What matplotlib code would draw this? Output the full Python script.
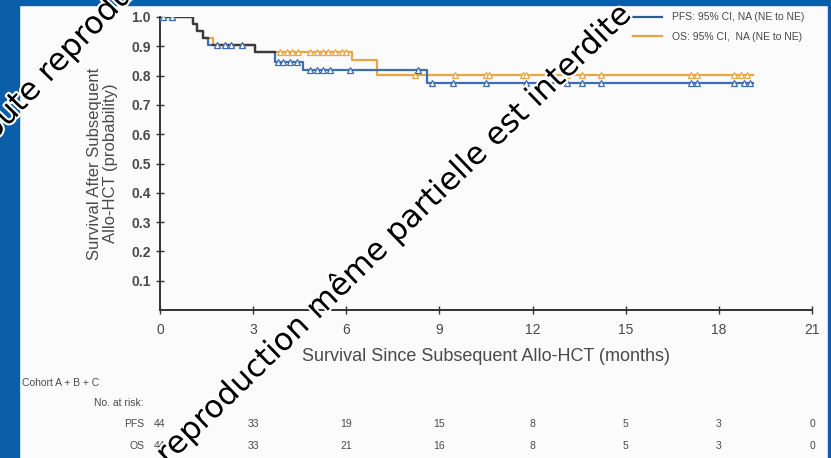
import numpy as np
import matplotlib
matplotlib.use("Agg")
import matplotlib.pyplot as plt
import matplotlib.patheffects as pe
from matplotlib.patches import Rectangle
from matplotlib.lines import Line2D

# Kaplan-Meier estimates, survival after subsequent allo-HCT (months)
month_ticks = [0, 3, 6, 9, 12, 15, 18, 21]
prob_ticks = [0.1, 0.2, 0.3, 0.4, 0.5, 0.6, 0.7, 0.8, 0.9, 1.0]
follow_up_end = 19.1

pfs_times = [0, 1.05, 1.18, 1.40, 1.56, 3.06, 3.71, 4.62, 8.60]
pfs_surv = [1.0, 0.977, 0.953, 0.929, 0.905, 0.879, 0.845, 0.820, 0.775]
pfs_censored = [0.1, 0.4, 1.83, 2.1, 2.3, 2.63, 3.8, 3.97, 4.2, 4.4,
                4.84, 5.06, 5.26, 5.48, 6.13, 8.3, 8.76, 9.45, 10.5,
                11.8, 13.1, 13.6, 14.2, 17.1, 17.3, 18.5, 18.8, 19.0]

os_times = [0, 1.05, 1.18, 1.40, 1.72, 3.06, 6.18, 6.99]
os_surv = [1.0, 0.977, 0.953, 0.929, 0.905, 0.879, 0.852, 0.802]
os_censored = [0.1, 0.4, 1.83, 2.1, 2.3, 2.63, 3.87, 4.1, 4.26, 4.45,
               4.84, 5.06, 5.26, 5.42, 5.65, 5.87, 6.0, 8.2, 9.5, 10.5,
               10.6, 11.7, 11.8, 13.1, 13.6, 14.2, 17.1, 17.3, 18.5,
               18.7, 18.9]

pfs_at_risk = [44, 33, 19, 15, 8, 5, 3, 0]
os_at_risk = [44, 33, 21, 16, 8, 5, 3, 0]

legend_labels = ["PFS: 95% CI, NA (NE to NE)", "OS: 95% CI,  NA (NE to NE)"]

PFS_COLOR = "#3d6db2"
OS_COLOR = "#e9a646"
SHARED_COLOR = "#3a3a3a"
TEXT_COLOR = "#4a4a4a"
FONT = ["Liberation Sans", "DejaVu Sans"]

W, H = 831, 458


def step_value(times, surv, t):
    idx = np.searchsorted(np.asarray(times), np.asarray(t), side="right") - 1
    return np.asarray(surv)[idx]


def curve(times, surv):
    x = np.append(times, follow_up_end)
    y = np.append(surv, surv[-1])
    return x, y


def fig_xy(x, y):
    return x / W, 1 - y / H


fig = plt.figure(figsize=(W / 100, H / 100), dpi=100, facecolor="#fbfbfb")
ax = fig.add_axes([160 / W, 1 - 310 / H, (812 - 160) / W, (310 - 17) / H])
ax.set_facecolor("none")

px, py = curve(pfs_times, pfs_surv)
ox, oy = curve(os_times, os_surv)
ax.step(ox, oy, where="post", color=OS_COLOR, lw=1.6, zorder=3)
ax.step(px, py, where="post", color=PFS_COLOR, lw=1.6, zorder=4)

# where both curves coincide they are drawn in dark grey
grid = np.union1d(px, ox)
gp = step_value(px, py, grid)
go = step_value(ox, oy, grid)
shared = np.ma.masked_where(~np.isclose(gp, go), gp)
ax.step(grid, shared, where="post", color=SHARED_COLOR, lw=1.6, zorder=5)

ax.plot(os_censored, step_value(ox, oy, os_censored), ls="none", marker="^",
        ms=4, mfc="white", mec=OS_COLOR, mew=0.9, zorder=6)
ax.plot(pfs_censored, step_value(px, py, pfs_censored), ls="none", marker="^",
        ms=4, mfc="white", mec=PFS_COLOR, mew=0.9, zorder=7)

ax.set_xlim(0, 21)
ax.set_ylim(0, 1.0)
ax.set_xticks(month_ticks)
ax.set_yticks(prob_ticks)
ax.set_yticklabels([f"{v:.1f}" for v in prob_ticks])
for s in ("top", "right"):
    ax.spines[s].set_visible(False)
for s in ("left", "bottom"):
    ax.spines[s].set_color("#333333")
    ax.spines[s].set_linewidth(1.4)
ax.tick_params(direction="inout", length=6, width=1.0, color="#333333",
               labelcolor=TEXT_COLOR, labelsize=10)
ax.tick_params(axis="x", pad=6)
for lab in ax.get_xticklabels() + ax.get_yticklabels():
    lab.set_family(FONT)
for lab in ax.get_yticklabels():
    lab.set_fontweight("bold")

ax.set_xlabel("Survival Since Subsequent Allo-HCT (months)", family=FONT,
              fontsize=13, color=TEXT_COLOR, labelpad=8)
ax.set_ylabel("Survival After Subsequent\nAllo-HCT (probability)", family=FONT,
              fontsize=12, color=TEXT_COLOR, labelpad=10, linespacing=1.05)

handles = [Line2D([], [], color="#2f5a96", lw=1.6),
           Line2D([], [], color=OS_COLOR, lw=1.6)]
fig.legend(handles, legend_labels, loc="upper right",
           bbox_to_anchor=(814 / W, 1 - 3 / H), frameon=False,
           prop={"family": FONT, "size": 7.5}, labelcolor=TEXT_COLOR,
           handlelength=2.8, handletextpad=1.0, labelspacing=0.9)

# number at risk table under the x axis
fig.text(*fig_xy(22, 383), "Cohort A + B + C", family=FONT, fontsize=7.5,
         color=TEXT_COLOR, va="center", ha="left")
fig.text(*fig_xy(144, 403), "No. at risk:", family=FONT, fontsize=7.5,
         color=TEXT_COLOR, va="center", ha="right")
for name, row, y in (("PFS", pfs_at_risk, 424), ("OS", os_at_risk, 446)):
    fig.text(*fig_xy(144, y), name, family=FONT, fontsize=7.5,
             color=TEXT_COLOR, va="center", ha="right")
    for m, n in zip(month_ticks, row):
        xd = ax.transData.transform((m, 0))[0]
        fig.text(xd / W, 1 - y / H, str(n), family=FONT, fontsize=7.5,
                 color=TEXT_COLOR, va="center", ha="center")

# blue slide frame
frame = "#0b5ea8"
fig.patches.append(Rectangle((0, 0), 19 / W, 1, transform=fig.transFigure,
                             color=frame, zorder=1))
fig.patches.append(Rectangle((0, 1 - 5 / H), 1, 5 / H, transform=fig.transFigure,
                             color=frame, zorder=1))
fig.patches.append(Rectangle((1 - 3 / W, 0), 3 / W, 1, transform=fig.transFigure,
                             color=frame, zorder=1))

# diagonal watermark
mark = "Toute reproduction même partielle est interdite"
outline = [pe.withStroke(linewidth=3, foreground="white")]
fig.text(*fig_xy(-16, 151), mark, rotation=46, rotation_mode="anchor",
         ha="left", va="baseline", fontsize=22.5, color="black",
         family="DejaVu Sans", path_effects=outline, zorder=20)
fig.text(*fig_xy(633, 16), mark, rotation=44, rotation_mode="anchor",
         ha="right", va="baseline", fontsize=22.5, color="black",
         family="DejaVu Sans", path_effects=outline, zorder=20)

fig.savefig("out.png", dpi=100, facecolor=fig.get_facecolor())
